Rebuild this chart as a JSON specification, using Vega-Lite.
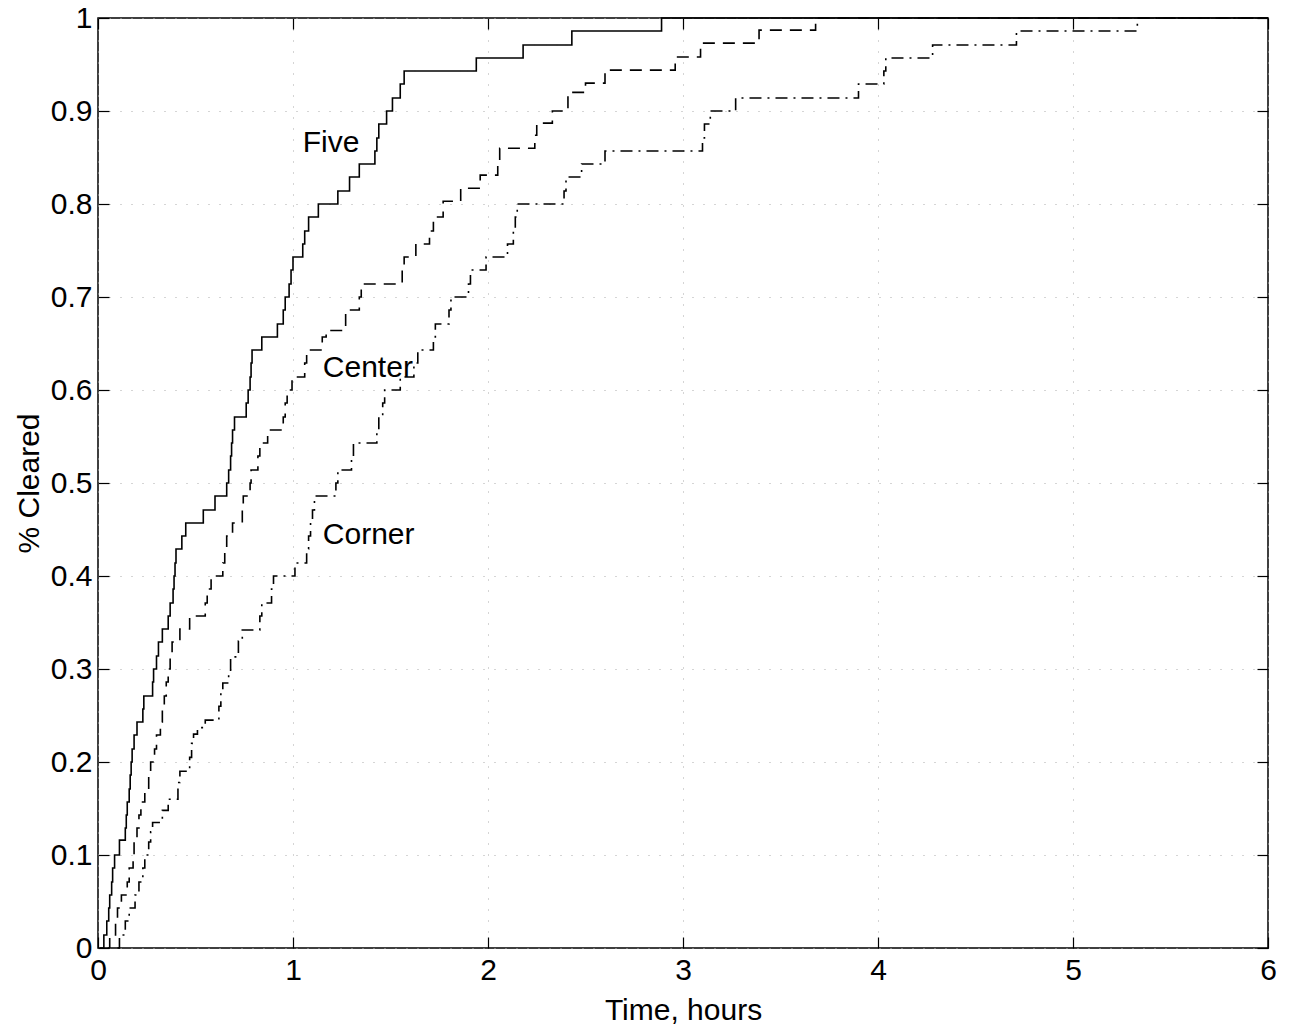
{
  "$schema": "https://vega.github.io/schema/vega-lite/v6.json",
  "width": 1170,
  "height": 930,
  "autosize": {"type": "none"},
  "padding": {"left": 98, "top": 18, "right": 22, "bottom": 83},
  "background": "white",
  "config": {
    "font": "Liberation Sans",
    "view": {"stroke": "black", "strokeWidth": 1.5},
    "axis": {"domain": false, "labelFont": "Liberation Sans", "titleFont": "Liberation Sans", "labelFontSize": 30, "titleFontSize": 30, "labelColor": "black", "titleColor": "black", "titleFontWeight": "normal", "tickColor": "black", "tickWidth": 1.2, "labelFlush": false}
  },
  "datasets": {
    "curves": [
      {"s":"Five","h":0.01,"p":0},{"s":"Five","h":0.03,"p":0.014},{"s":"Five","h":0.045,"p":0.029},{"s":"Five","h":0.055,"p":0.043},{"s":"Five","h":0.06,"p":0.057},{"s":"Five","h":0.07,"p":0.071},{"s":"Five","h":0.075,"p":0.086},{"s":"Five","h":0.085,"p":0.1},{"s":"Five","h":0.11,"p":0.116},{"s":"Five","h":0.14,"p":0.129},{"s":"Five","h":0.145,"p":0.143},{"s":"Five","h":0.15,"p":0.157},{"s":"Five","h":0.16,"p":0.171},{"s":"Five","h":0.165,"p":0.186},{"s":"Five","h":0.17,"p":0.2},{"s":"Five","h":0.175,"p":0.214},{"s":"Five","h":0.185,"p":0.229},{"s":"Five","h":0.2,"p":0.243},{"s":"Five","h":0.23,"p":0.257},{"s":"Five","h":0.235,"p":0.271},{"s":"Five","h":0.28,"p":0.286},{"s":"Five","h":0.285,"p":0.3},{"s":"Five","h":0.3,"p":0.314},{"s":"Five","h":0.31,"p":0.329},{"s":"Five","h":0.33,"p":0.343},{"s":"Five","h":0.36,"p":0.357},{"s":"Five","h":0.37,"p":0.371},{"s":"Five","h":0.385,"p":0.386},{"s":"Five","h":0.39,"p":0.4},{"s":"Five","h":0.395,"p":0.414},{"s":"Five","h":0.4,"p":0.429},{"s":"Five","h":0.43,"p":0.443},{"s":"Five","h":0.45,"p":0.457},{"s":"Five","h":0.54,"p":0.471},{"s":"Five","h":0.6,"p":0.486},{"s":"Five","h":0.66,"p":0.5},{"s":"Five","h":0.67,"p":0.514},{"s":"Five","h":0.68,"p":0.529},{"s":"Five","h":0.685,"p":0.543},{"s":"Five","h":0.69,"p":0.557},{"s":"Five","h":0.7,"p":0.571},{"s":"Five","h":0.76,"p":0.586},{"s":"Five","h":0.77,"p":0.6},{"s":"Five","h":0.78,"p":0.614},{"s":"Five","h":0.785,"p":0.629},{"s":"Five","h":0.79,"p":0.643},{"s":"Five","h":0.84,"p":0.657},{"s":"Five","h":0.92,"p":0.671},{"s":"Five","h":0.95,"p":0.686},{"s":"Five","h":0.96,"p":0.7},{"s":"Five","h":0.98,"p":0.714},{"s":"Five","h":0.99,"p":0.729},{"s":"Five","h":1.0,"p":0.743},{"s":"Five","h":1.05,"p":0.757},{"s":"Five","h":1.06,"p":0.771},{"s":"Five","h":1.08,"p":0.786},{"s":"Five","h":1.13,"p":0.8},{"s":"Five","h":1.23,"p":0.814},{"s":"Five","h":1.29,"p":0.829},{"s":"Five","h":1.34,"p":0.843},{"s":"Five","h":1.42,"p":0.857},{"s":"Five","h":1.43,"p":0.871},{"s":"Five","h":1.44,"p":0.886},{"s":"Five","h":1.48,"p":0.9},{"s":"Five","h":1.51,"p":0.914},{"s":"Five","h":1.55,"p":0.929},{"s":"Five","h":1.57,"p":0.943},{"s":"Five","h":1.94,"p":0.957},{"s":"Five","h":2.18,"p":0.971},{"s":"Five","h":2.43,"p":0.986},{"s":"Five","h":2.89,"p":1.0},{"s":"Five","h":6,"p":1.0},
      {"s":"Center","h":0.05,"p":0},{"s":"Center","h":0.06,"p":0.014},{"s":"Center","h":0.09,"p":0.029},{"s":"Center","h":0.1,"p":0.043},{"s":"Center","h":0.12,"p":0.057},{"s":"Center","h":0.15,"p":0.071},{"s":"Center","h":0.16,"p":0.086},{"s":"Center","h":0.18,"p":0.1},{"s":"Center","h":0.185,"p":0.114},{"s":"Center","h":0.2,"p":0.129},{"s":"Center","h":0.21,"p":0.143},{"s":"Center","h":0.22,"p":0.157},{"s":"Center","h":0.24,"p":0.171},{"s":"Center","h":0.26,"p":0.186},{"s":"Center","h":0.27,"p":0.2},{"s":"Center","h":0.29,"p":0.214},{"s":"Center","h":0.3,"p":0.229},{"s":"Center","h":0.32,"p":0.243},{"s":"Center","h":0.33,"p":0.257},{"s":"Center","h":0.34,"p":0.271},{"s":"Center","h":0.35,"p":0.286},{"s":"Center","h":0.36,"p":0.3},{"s":"Center","h":0.37,"p":0.314},{"s":"Center","h":0.38,"p":0.329},{"s":"Center","h":0.42,"p":0.343},{"s":"Center","h":0.47,"p":0.357},{"s":"Center","h":0.55,"p":0.371},{"s":"Center","h":0.56,"p":0.386},{"s":"Center","h":0.58,"p":0.4},{"s":"Center","h":0.64,"p":0.414},{"s":"Center","h":0.65,"p":0.429},{"s":"Center","h":0.66,"p":0.443},{"s":"Center","h":0.69,"p":0.457},{"s":"Center","h":0.74,"p":0.471},{"s":"Center","h":0.745,"p":0.486},{"s":"Center","h":0.78,"p":0.5},{"s":"Center","h":0.785,"p":0.514},{"s":"Center","h":0.82,"p":0.529},{"s":"Center","h":0.83,"p":0.543},{"s":"Center","h":0.87,"p":0.557},{"s":"Center","h":0.95,"p":0.571},{"s":"Center","h":0.96,"p":0.586},{"s":"Center","h":0.97,"p":0.6},{"s":"Center","h":0.995,"p":0.614},{"s":"Center","h":1.06,"p":0.629},{"s":"Center","h":1.07,"p":0.643},{"s":"Center","h":1.15,"p":0.657},{"s":"Center","h":1.17,"p":0.664},{"s":"Center","h":1.27,"p":0.686},{"s":"Center","h":1.34,"p":0.7},{"s":"Center","h":1.35,"p":0.714},{"s":"Center","h":1.56,"p":0.729},{"s":"Center","h":1.57,"p":0.743},{"s":"Center","h":1.63,"p":0.757},{"s":"Center","h":1.7,"p":0.771},{"s":"Center","h":1.72,"p":0.786},{"s":"Center","h":1.77,"p":0.803},{"s":"Center","h":1.86,"p":0.817},{"s":"Center","h":1.96,"p":0.831},{"s":"Center","h":2.05,"p":0.846},{"s":"Center","h":2.06,"p":0.86},{"s":"Center","h":2.24,"p":0.874},{"s":"Center","h":2.25,"p":0.887},{"s":"Center","h":2.33,"p":0.9},{"s":"Center","h":2.41,"p":0.92},{"s":"Center","h":2.5,"p":0.93},{"s":"Center","h":2.6,"p":0.944},{"s":"Center","h":2.96,"p":0.958},{"s":"Center","h":3.09,"p":0.973},{"s":"Center","h":3.39,"p":0.987},{"s":"Center","h":3.68,"p":1.0},{"s":"Center","h":6,"p":1.0},
      {"s":"Corner","h":0.1,"p":0},{"s":"Corner","h":0.11,"p":0.014},{"s":"Corner","h":0.14,"p":0.029},{"s":"Corner","h":0.16,"p":0.043},{"s":"Corner","h":0.19,"p":0.057},{"s":"Corner","h":0.21,"p":0.071},{"s":"Corner","h":0.23,"p":0.086},{"s":"Corner","h":0.24,"p":0.1},{"s":"Corner","h":0.26,"p":0.114},{"s":"Corner","h":0.27,"p":0.125},{"s":"Corner","h":0.28,"p":0.135},{"s":"Corner","h":0.33,"p":0.148},{"s":"Corner","h":0.36,"p":0.16},{"s":"Corner","h":0.41,"p":0.178},{"s":"Corner","h":0.42,"p":0.19},{"s":"Corner","h":0.47,"p":0.205},{"s":"Corner","h":0.48,"p":0.22},{"s":"Corner","h":0.49,"p":0.23},{"s":"Corner","h":0.51,"p":0.237},{"s":"Corner","h":0.55,"p":0.245},{"s":"Corner","h":0.62,"p":0.26},{"s":"Corner","h":0.63,"p":0.275},{"s":"Corner","h":0.64,"p":0.285},{"s":"Corner","h":0.67,"p":0.295},{"s":"Corner","h":0.68,"p":0.313},{"s":"Corner","h":0.72,"p":0.33},{"s":"Corner","h":0.74,"p":0.342},{"s":"Corner","h":0.83,"p":0.357},{"s":"Corner","h":0.84,"p":0.371},{"s":"Corner","h":0.89,"p":0.386},{"s":"Corner","h":0.9,"p":0.4},{"s":"Corner","h":1.01,"p":0.414},{"s":"Corner","h":1.07,"p":0.429},{"s":"Corner","h":1.08,"p":0.443},{"s":"Corner","h":1.09,"p":0.457},{"s":"Corner","h":1.1,"p":0.471},{"s":"Corner","h":1.11,"p":0.486},{"s":"Corner","h":1.22,"p":0.5},{"s":"Corner","h":1.23,"p":0.514},{"s":"Corner","h":1.3,"p":0.529},{"s":"Corner","h":1.31,"p":0.543},{"s":"Corner","h":1.43,"p":0.557},{"s":"Corner","h":1.44,"p":0.571},{"s":"Corner","h":1.46,"p":0.586},{"s":"Corner","h":1.47,"p":0.6},{"s":"Corner","h":1.55,"p":0.614},{"s":"Corner","h":1.62,"p":0.629},{"s":"Corner","h":1.64,"p":0.643},{"s":"Corner","h":1.72,"p":0.657},{"s":"Corner","h":1.73,"p":0.671},{"s":"Corner","h":1.8,"p":0.686},{"s":"Corner","h":1.81,"p":0.7},{"s":"Corner","h":1.9,"p":0.714},{"s":"Corner","h":1.91,"p":0.729},{"s":"Corner","h":1.99,"p":0.743},{"s":"Corner","h":2.1,"p":0.757},{"s":"Corner","h":2.13,"p":0.771},{"s":"Corner","h":2.14,"p":0.786},{"s":"Corner","h":2.15,"p":0.8},{"s":"Corner","h":2.39,"p":0.814},{"s":"Corner","h":2.4,"p":0.829},{"s":"Corner","h":2.48,"p":0.843},{"s":"Corner","h":2.6,"p":0.857},{"s":"Corner","h":3.1,"p":0.871},{"s":"Corner","h":3.11,"p":0.886},{"s":"Corner","h":3.14,"p":0.9},{"s":"Corner","h":3.27,"p":0.914},{"s":"Corner","h":3.9,"p":0.929},{"s":"Corner","h":4.03,"p":0.943},{"s":"Corner","h":4.04,"p":0.957},{"s":"Corner","h":4.28,"p":0.971},{"s":"Corner","h":4.71,"p":0.986},{"s":"Corner","h":5.33,"p":1.0},{"s":"Corner","h":6,"p":1.0}
    ],
    "labels": [
      {"t":"Five","h":1.05,"p":0.866},
      {"t":"Center","h":1.153,"p":0.624},
      {"t":"Corner","h":1.153,"p":0.444}
    ]
  },
  "layer": [
    {
      "data": {"name": "curves"},
      "mark": {"type": "line", "interpolate": "step-after", "color": "black", "strokeWidth": 1.6},
      "encoding": {
        "x": {"field": "h", "type": "quantitative", "scale": {"domain": [0, 6], "nice": false},
              "axis": {"orient": "bottom", "title": "Time, hours", "values": [0,1,2,3,4,5,6], "tickSize": -11, "labelPadding": 18, "titlePadding": 10, "grid": true, "gridDash": [1, 10], "gridColor": "#aaa", "gridWidth": 1}},
        "y": {"field": "p", "type": "quantitative", "scale": {"domain": [0, 1], "nice": false},
              "axis": {"orient": "left", "title": "% Cleared", "values": [0,0.1,0.2,0.3,0.4,0.5,0.6,0.7,0.8,0.9,1], "format": "~g", "tickSize": -11, "labelPadding": 17, "titlePadding": 6, "grid": true, "gridDash": [1, 10], "gridColor": "#aaa", "gridWidth": 1}},
        "detail": {"field": "s"},
        "strokeDash": {"field": "s", "type": "nominal", "scale": {"domain": ["Five", "Center", "Corner"], "range": [[1, 0], [12, 8], [12, 6, 2, 6]]}, "legend": null}
      }
    },
    {
      "data": {"name": "curves"},
      "mark": {"type": "line", "opacity": 0},
      "encoding": {
        "x": {"field": "h", "type": "quantitative", "scale": {"domain": [0, 6], "nice": false},
              "axis": {"orient": "top", "title": null, "labels": false, "values": [0,1,2,3,4,5,6], "tickSize": -11, "grid": false}},
        "y": {"field": "p", "type": "quantitative", "scale": {"domain": [0, 1], "nice": false},
              "axis": {"orient": "right", "title": null, "labels": false, "values": [0,0.1,0.2,0.3,0.4,0.5,0.6,0.7,0.8,0.9,1], "tickSize": -11, "grid": false}},
        "detail": {"field": "s"}
      }
    },
    {
      "data": {"name": "labels"},
      "mark": {"type": "text", "align": "left", "baseline": "middle", "fontSize": 30, "font": "Liberation Sans", "color": "black"},
      "encoding": {
        "x": {"field": "h", "type": "quantitative", "axis": null},
        "y": {"field": "p", "type": "quantitative", "axis": null},
        "text": {"field": "t"}
      }
    }
  ],
  "resolve": {"axis": {"x": "independent", "y": "independent"}}
}
